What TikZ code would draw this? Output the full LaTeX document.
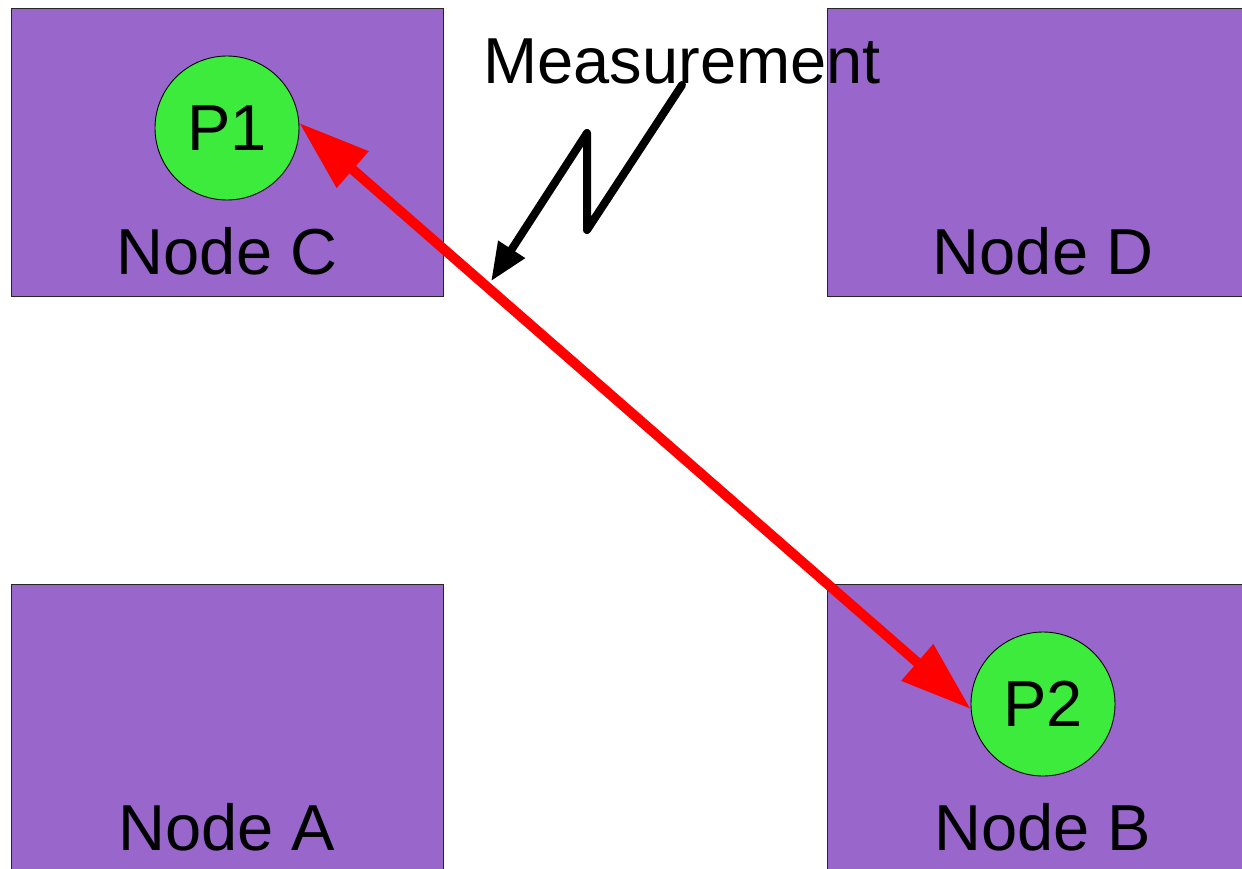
\documentclass[tikz,border=0pt]{standalone}
\usepackage{fontspec}
\setmainfont{Liberation Sans}
\usetikzlibrary{positioning,arrows.meta,calc}
\definecolor{boxpurple}{RGB}{153,102,204}
\definecolor{probegreen}{RGB}{61,235,61}
\definecolor{linkred}{RGB}{255,0,0}
\tikzset{
  regionbox/.style={draw=black!85, line width=0.5pt, fill=boxpurple, minimum width=8.64cm, minimum height=5.76cm, inner sep=0pt},
  probenode/.style={circle, draw, line width=0.5pt, fill=probegreen, minimum size=2.88cm, inner sep=0pt},
  nametext/.style={anchor=base, inner sep=0pt},
  linkarrow/.style={{Triangle[length=1.42cm, width=0.92cm]}-{Triangle[length=1.42cm, width=0.92cm]}, line width=0.2cm, linkred},
  measarrow/.style={-{Triangle[length=0.76cm, width=0.6cm]}, line width=0.16cm, line join=round, line cap=round}
}

\begin{document}
\begin{tikzpicture}[x=0.02cm, y=-0.02cm, every node/.style={font=\fontsize{37}{44}\selectfont}]
      \useasboundingbox (0,0) rectangle (1242,869);
      \clip (0,0) rectangle (1242,869);
      % the four regions
      \node[regionbox] (nc) at (227,152) {};
      \node[regionbox] (nd) at (1043,152) {};
      \node[regionbox] (na) at (227,728) {};
      \node[regionbox] (nb) at (1043,728) {};
      \node[nametext] (lc) at ($(nc.south)+(0,-22)$) {Node C};
      \node[nametext] (ld) at ($(nd.south)+(0,-22)$) {Node D};
      \node[nametext] (la) at ($(na.south)+(0,-22)$) {Node A};
      \node[nametext] (lb) at ($(nb.south)+(0,-22)$) {Node B};
      % probes
      \node[probenode] (p1) at (227,128) {P1};
      \node[probenode] (p2) at (1043,704) {P2};
      \node[nametext] (meas) at (682,83) {Measurement};
      \path (p1.4) -- (p2.184) coordinate[pos=0.28] (hit);
      \coordinate (mstart) at (682,85);
      \coordinate (zig1) at (587,230);
      \coordinate (zig2) at (587,133);
      \draw[measarrow, shorten >=0.14cm] (mstart) -- (zig1) -- (zig2) -- (hit);
      \draw[linkarrow] (p1.4) -- (p2.184);
    \end{tikzpicture}
\end{document}
